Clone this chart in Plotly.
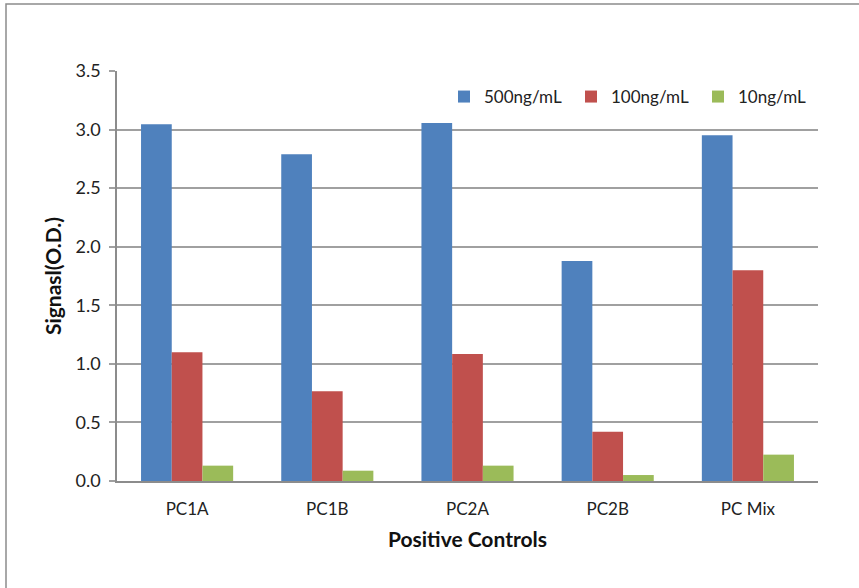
import plotly.graph_objects as go

categories = ["PC1A", "PC1B", "PC2A", "PC2B", "PC Mix"]
series_names = ["500ng/mL", "100ng/mL", "10ng/mL"]
v500 = [3.045, 2.79, 3.056, 1.878, 2.951]
v100 = [1.099, 0.766, 1.084, 0.421, 1.80]
v10 = [0.131, 0.088, 0.131, 0.051, 0.225]
colors = ["#4F81BD", "#C0504D", "#9BBB59"]
y_ticks = [0.0, 0.5, 1.0, 1.5, 2.0, 2.5, 3.0, 3.5]

FONT = "Lato"
fig = go.Figure()
for name, vals, c in zip(series_names, [v500, v100, v10], colors):
    fig.add_trace(go.Bar(x=categories, y=vals, name=name,
                         marker=dict(color=c, line=dict(width=0))))

W, H = 859, 588
L, R, T, B = 117, 818, 71, 481
pw, ph = R - L, B - T

def px(x):
    return (x - L) / pw

def py(y):
    return (B - y) / ph

fig.update_layout(
    width=W, height=H,
    margin=dict(l=L, r=W - R, t=T, b=H - B, pad=0, autoexpand=False),
    paper_bgcolor="white", plot_bgcolor="white",
    barmode="group", bargap=0.343, bargroupgap=0,
    font=dict(family=FONT, size=15, color="#222222"),
    showlegend=True,
    legend=dict(orientation="h", x=px(444), y=py(97), xanchor="left", yanchor="middle",
                bgcolor="rgba(0,0,0,0)", font=dict(size=17, family=FONT),
                entrywidth=82, entrywidthmode="pixels", itemwidth=30,
                tracegroupgap=0),
    xaxis=dict(showgrid=False, showline=True, linecolor="#8C8C8C", linewidth=1.5,
               ticks="", tickfont=dict(size=17, family=FONT), ticklabelstandoff=12,
               title=dict(text="<b>Positive Controls</b>", font=dict(size=21, family=FONT, color="#111111"),
                          standoff=14)),
    yaxis=dict(range=[0, 3.5], tickvals=y_ticks, ticktext=[f"{v:.1f}" for v in y_ticks],
               showgrid=True, gridcolor="#A0A0A0", gridwidth=1.5,
               showline=True, linecolor="#8C8C8C", linewidth=1.5,
               ticks="outside", ticklen=6, tickcolor="#A0A0A0", tickwidth=1.5,
               tickfont=dict(size=18, family=FONT), zeroline=False, ticklabelstandoff=5,
               title=dict(text="<b>Signasl(O.D.)</b>", font=dict(size=21, family=FONT, color="#111111"),
                          standoff=8)),
)

fig.add_shape(type="rect", xref="paper", yref="paper",
              x0=px(6), x1=px(880), y0=py(610), y1=py(4),
              line=dict(color="#8C8C8C", width=1.5), fillcolor="rgba(0,0,0,0)", layer="below")

fig.write_html("out.html", config={"displayModeBar": False},
               post_script="document.body.style.margin='0';")
